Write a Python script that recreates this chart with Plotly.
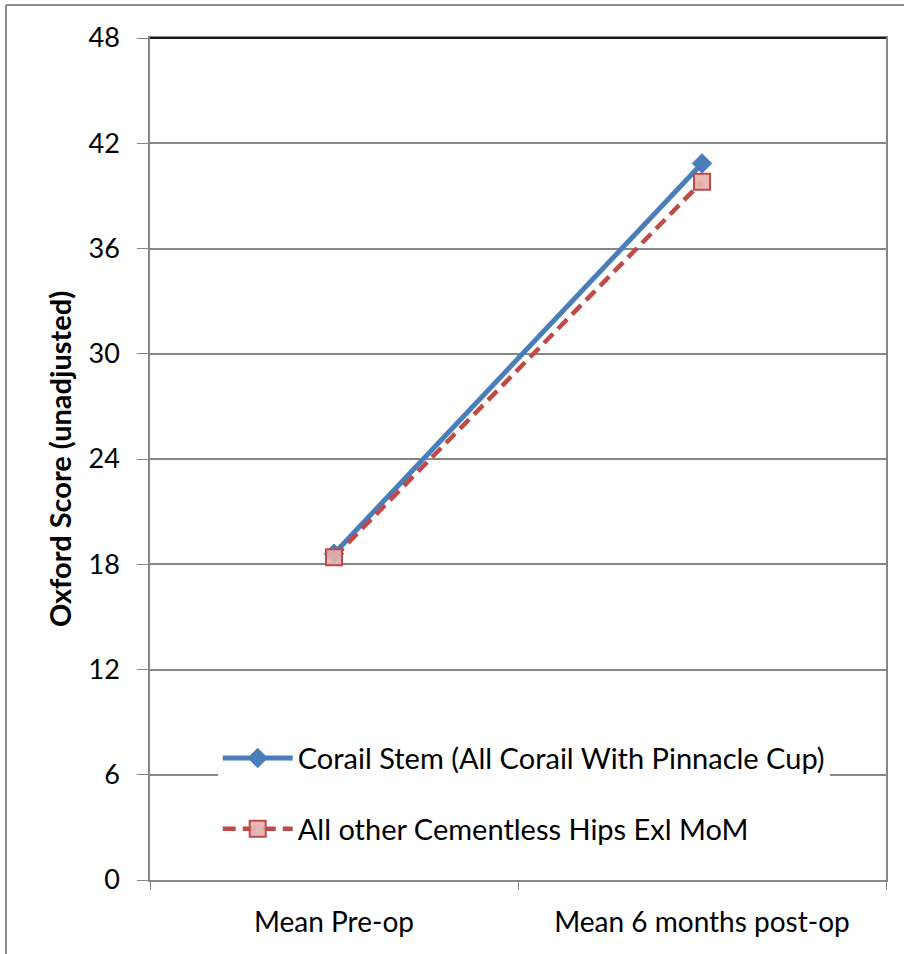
import plotly.graph_objects as go

categories = ["Mean Pre-op", "Mean 6 months post-op"]
corail_values = [18.6, 40.85]
other_values = [18.4, 39.8]
series_names = ["Corail Stem (All Corail With Pinnacle Cup)", "All other Cementless Hips Exl MoM"]
y_ticks = [0, 6, 12, 18, 24, 30, 36, 42, 48]

FONT = "Lato"

fig = go.Figure()
fig.add_trace(go.Scatter(
    x=categories, y=corail_values, name=series_names[0], mode="lines+markers",
    line=dict(color="#4A7EBB", width=5),
    marker=dict(symbol="diamond", size=15, color="#4A7EBB", line=dict(color="#4A7EBB", width=1)),
    legendgroup="a",
))
fig.add_trace(go.Scatter(
    x=categories, y=other_values, name=series_names[1], mode="lines+markers",
    line=dict(color="#BE4B48", width=4.5, dash="13px,7px"),
    marker=dict(symbol="square", size=16, color="rgba(230,176,174,0.9)", line=dict(color="#BE4B48", width=2)),
    legendgroup="b",
))

fig.update_layout(
    width=904, height=954,
    margin=dict(l=150, r=18, t=38, b=74),
    paper_bgcolor="white", plot_bgcolor="white",
    font=dict(family=FONT, color="black"),
    showlegend=True,
    legend=dict(
        x=0.092, y=0.175, xanchor="left", yanchor="top",
        bgcolor="white", borderwidth=0,
        font=dict(family=FONT, size=29, color="black"),
        traceorder="grouped", tracegroupgap=30, itemwidth=70,
    ),
    xaxis=dict(
        type="category", tickson="boundaries", ticks="outside", ticklen=8,
        tickcolor="#868686", showline=True, linecolor="#868686", linewidth=1.5,
        mirror=True, showgrid=False,
        tickfont=dict(family=FONT, size=28, color="black"),
        ticklabelstandoff=17,
        range=[-0.5, 1.5],
    ),
    yaxis=dict(
        range=[0, 48], tickvals=y_ticks, ticks="outside", ticklen=11,
        tickcolor="#868686", showline=True, linecolor="#868686", linewidth=1.5,
        mirror=True, showgrid=True, gridcolor="#868686", gridwidth=1.5,
        tickfont=dict(family=FONT, size=27, color="black"),
        ticklabelstandoff=12,
        title=dict(text="<b>Oxford Score (unadjusted)</b>", font=dict(family=FONT, size=29, color="black"), standoff=8),
        zeroline=False,
    ),
    shapes=[
        dict(type="line", xref="paper", yref="paper", x0=-0.1957, x1=1.05, y0=1.0392, y1=1.0392,
             line=dict(color="#8C8C8C", width=2)),
        dict(type="line", xref="paper", yref="paper", x0=-0.1957, x1=-0.1957, y0=1.0392, y1=-0.1,
             line=dict(color="#8C8C8C", width=2)),
        dict(type="line", xref="paper", yref="paper", x0=0, x1=1, y0=1, y1=1,
             line=dict(color="#1a1a1a", width=2)),
    ],
)

fig.write_html("out.html")
